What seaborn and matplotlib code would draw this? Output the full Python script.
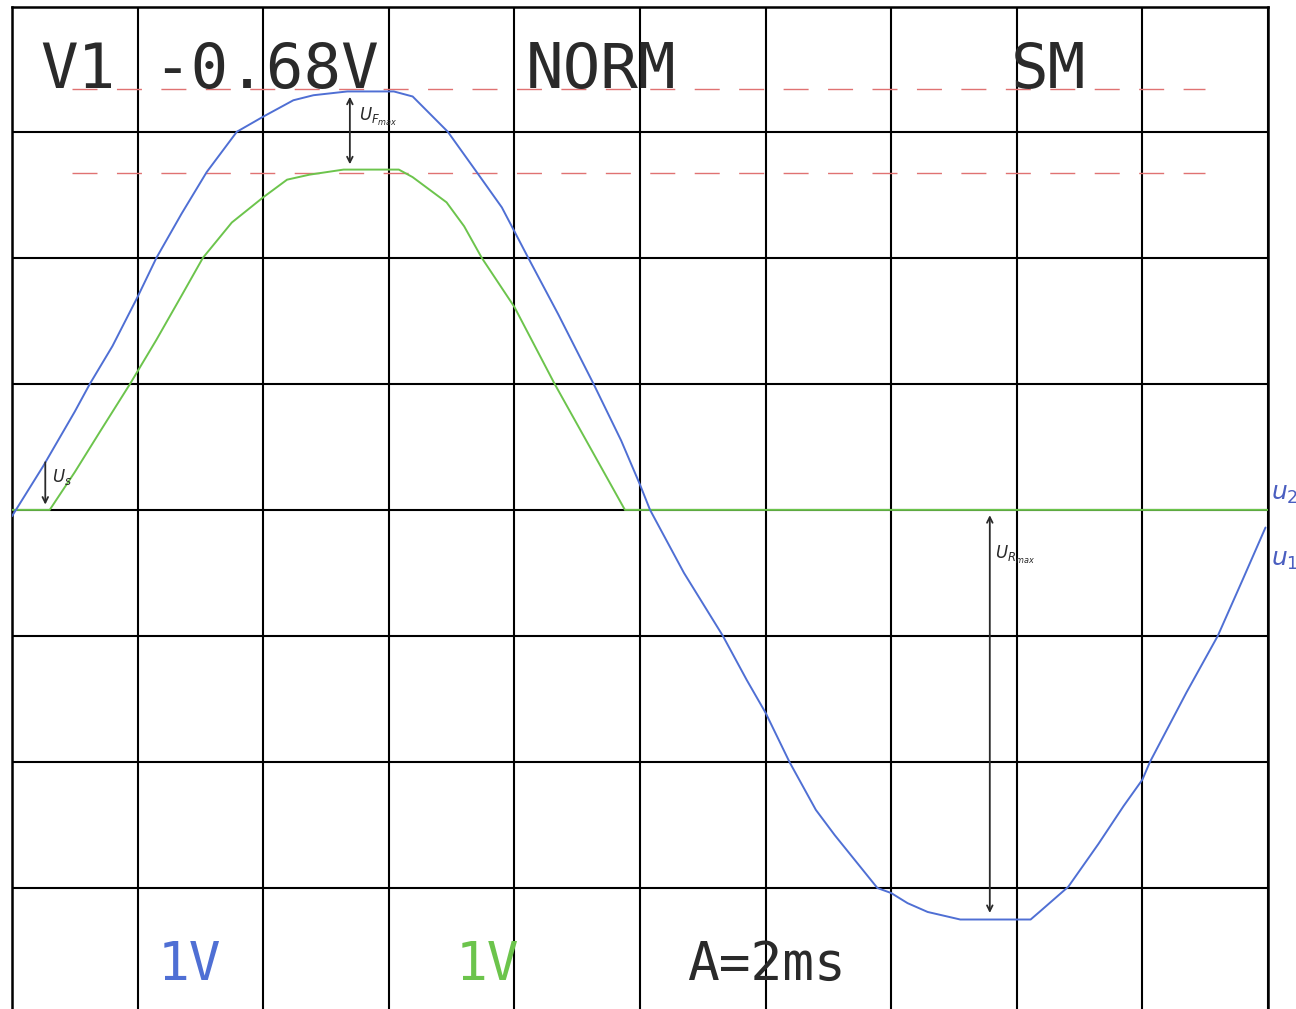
import numpy as np
import matplotlib.pyplot as plt
import seaborn as sns

# oscilloscope printout: 2 ms/div, 1 V/div, two channels
blue_t = [0.0, 0.5, 1.0, 1.24, 1.6, 2.0, 2.3, 2.7, 3.1, 3.58, 4.0, 4.48, 4.8, 5.34, 6.08,
          6.38, 6.94, 7.4, 7.8, 8.0, 8.22, 8.7, 9.26, 9.7, 10.0, 10.16, 10.7, 11.32, 11.7,
          12.0, 12.38, 12.8, 13.1, 13.78, 14.0, 14.26, 14.58, 15.1, 16.22, 16.36, 16.82,
          17.3, 17.7, 18.0, 18.12, 18.7, 19.2, 19.6, 19.96]
blue_v = [-0.05, 0.35, 0.78, 1.0, 1.30, 1.69, 2.0, 2.35, 2.68, 3.0, 3.12, 3.25, 3.29, 3.32, 3.32,
          3.28, 3.0, 2.68, 2.40, 2.21, 2.0, 1.55, 1.0, 0.55, 0.2, 0.0, -0.5, -1.0, -1.35,
          -1.61, -2.0, -2.38, -2.58, -3.0, -3.04, -3.12, -3.19, -3.25, -3.25, -3.19, -2.99,
          -2.65, -2.35, -2.14, -2.0, -1.45, -1.0, -0.55, -0.14]

green_t = [0.0, 0.6, 1.0, 1.4, 1.88, 2.3, 2.7, 3.04, 3.5, 4.0, 4.38, 4.74, 5.28, 6.16, 6.38,
           6.92, 7.2, 7.48, 8.0, 8.64, 9.2, 9.76, 20.0]
green_v = [0.0, 0.0, 0.3, 0.62, 1.0, 1.35, 1.70, 2.0, 2.28, 2.48, 2.62, 2.66, 2.70, 2.70, 2.64,
           2.44, 2.25, 2.0, 1.61, 1.0, 0.5, 0.0, 0.0]

cursor_levels = [3.34, 2.67]   # V1 cursors (difference -0.68 V)
cursor_span = [0.96, 19.0]     # ms

blue_col = "#4f6fd4"
green_col = "#6cc44c"
red_col = "#e07272"
ink = "#2a2a2a"

sns.set_style("white")
plt.rcParams['font.family'] = ['DejaVu Sans Mono', 'DejaVu Sans']

fig = plt.figure(figsize=(12.96, 10.09), dpi=100)
ax = fig.add_axes([12/1296, 0, 1256/1296, 1002/1009])

# screen grid
ax.set_xlim(0, 20)
ax.set_ylim(-3.96, 3.99)
ax.set_xticks(np.arange(0, 21, 2))
ax.set_yticks(np.arange(-3, 4, 1))
ax.grid(True, color="black", lw=1.5, zorder=1)
ax.tick_params(length=0, labelbottom=False, labelleft=False)
for s in ["left", "top", "right"]:
    ax.spines[s].set_color("black")
    ax.spines[s].set_linewidth(1.8)
ax.spines["bottom"].set_visible(False)

# cursors
for lvl in cursor_levels:
    ax.hlines(lvl, cursor_span[0], cursor_span[1], colors=red_col, lw=1.0,
              linestyles=(0, (18, 14)), zorder=2)

sns.lineplot(x=green_t, y=green_v, color=green_col, lw=1.4, ax=ax, zorder=3)
sns.lineplot(x=blue_t, y=blue_v, color=blue_col, lw=1.4, ax=ax, zorder=4)
ax.set_xlabel("")
ax.set_ylabel("")

# screen texts
tr = ax.transAxes
def fx(px):
    return (px - 12) / 1256
def fy(py):
    return (1009 - py) / 1002

ax.text(fx(78), fy(88), "V1", transform=tr, ha="center", va="baseline", fontsize=45, color=ink)
ax.text(fx(266), fy(88), "-0.68V", transform=tr, ha="center", va="baseline", fontsize=45, color=ink)
ax.text(fx(601), fy(88), "NORM", transform=tr, ha="center", va="baseline", fontsize=45, color=ink)
ax.text(fx(1048), fy(88), "SM", transform=tr, ha="center", va="baseline", fontsize=45, color=ink)
ax.text(fx(189), fy(980), "1V", transform=tr, ha="center", va="baseline", fontsize=38, color=blue_col)
ax.text(fx(487), fy(980), "1V", transform=tr, ha="center", va="baseline", fontsize=38, color=green_col)
ax.text(fx(766), fy(980), "A=2ms", transform=tr, ha="center", va="baseline", fontsize=38, color=ink)

# handwritten notes
ax.annotate("", xy=(5.38, 3.30), xytext=(5.38, 2.72),
            arrowprops=dict(arrowstyle="<->", color=ink, lw=1.3), zorder=5)
ax.text(5.52, 3.12, "$U_{F_{max}}$", fontsize=12, color=ink, ha="left", va="center", family="DejaVu Sans")
ax.annotate("", xy=(0.53, 0.02), xytext=(0.53, 0.40),
            arrowprops=dict(arrowstyle="->", color=ink, lw=1.3), zorder=5)
ax.text(0.64, 0.26, "$U_s$", fontsize=12, color=ink, ha="left", va="center", family="DejaVu Sans")
ax.annotate("", xy=(15.57, -0.02), xytext=(15.57, -3.22),
            arrowprops=dict(arrowstyle="<->", color=ink, lw=1.3), zorder=5)
ax.text(15.65, -0.36, "$U_{R_{max}}$", fontsize=12, color=ink, ha="left", va="center", family="DejaVu Sans")
ax.text(20.05, 0.13, "$u_2$", fontsize=18, color="#4a5ec0", ha="left", va="center", clip_on=False, family="DejaVu Sans")
ax.text(20.05, -0.40, "$u_1$", fontsize=18, color="#4a5ec0", ha="left", va="center", clip_on=False, family="DejaVu Sans")

plt.savefig("out.png", dpi=100)
